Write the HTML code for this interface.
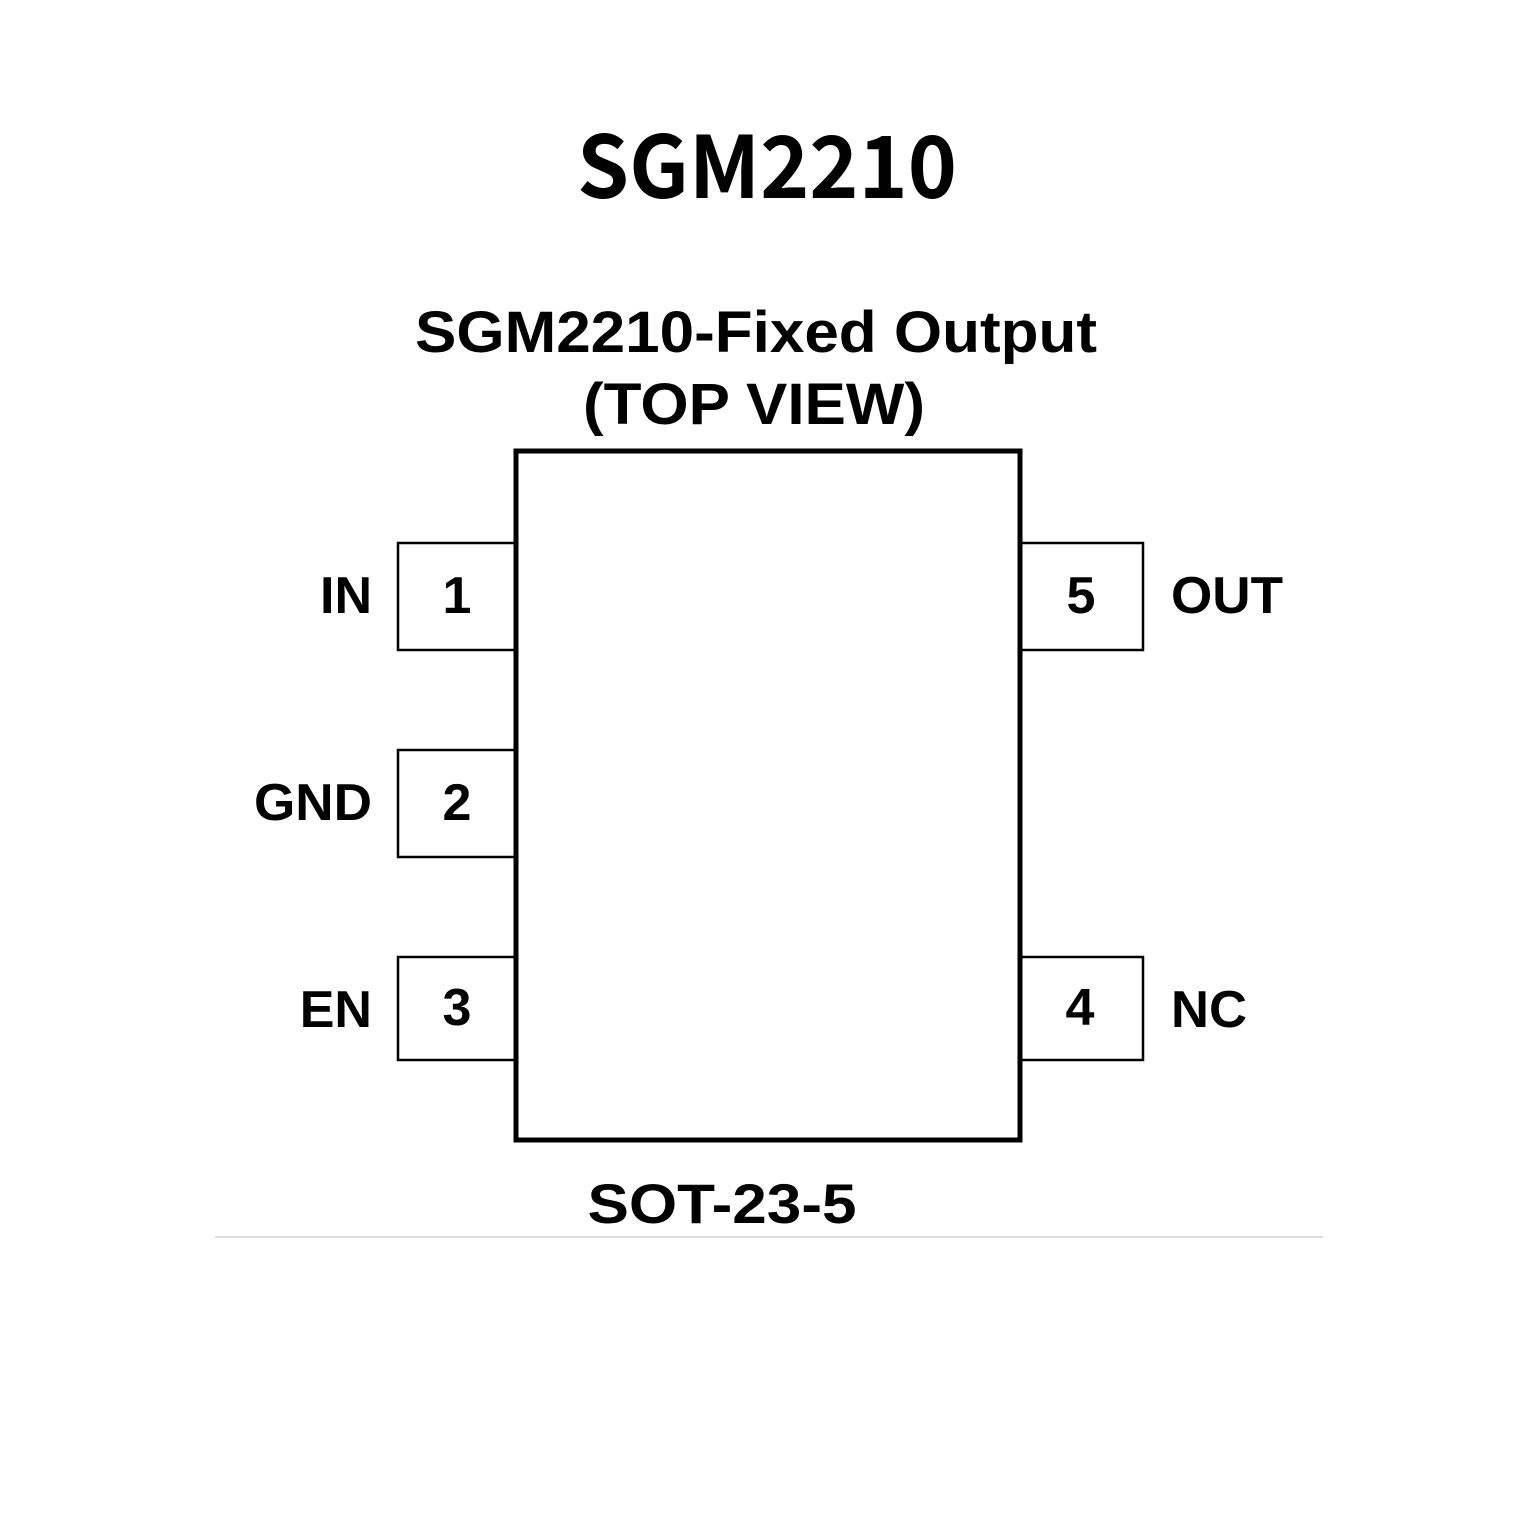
<!DOCTYPE html>
<html><head><style>body{margin:0;background:#fff}</style></head><body>
<svg width="1535" height="1535" xmlns="http://www.w3.org/2000/svg" font-family="Liberation Sans, sans-serif" font-weight="bold" fill="#000">
<text x="767" y="198" font-size="86" text-anchor="middle" font-family="Noto Sans CJK SC, Liberation Sans, sans-serif" textLength="380" lengthAdjust="spacingAndGlyphs">SGM2210</text>
<text x="756" y="352" font-size="58" text-anchor="middle" textLength="682" lengthAdjust="spacingAndGlyphs">SGM2210-Fixed Output</text>
<text x="754" y="424" font-size="58" text-anchor="middle" textLength="342" lengthAdjust="spacingAndGlyphs">(TOP VIEW)</text>
<rect x="516" y="451" width="504" height="689" fill="none" stroke="#000" stroke-width="5"/>
<g fill="none" stroke="#000" stroke-width="2.5">
<rect x="398" y="543" width="118" height="107"/>
<rect x="398" y="750" width="118" height="107"/>
<rect x="398" y="957" width="118" height="103"/>
<rect x="1020" y="543" width="123" height="107"/>
<rect x="1020" y="957" width="123" height="103"/>
</g>
<g font-size="52">
<text x="372" y="613" text-anchor="end">IN</text>
<text x="372" y="820" text-anchor="end" textLength="118" lengthAdjust="spacingAndGlyphs">GND</text>
<text x="372" y="1027" text-anchor="end">EN</text>
<text x="457" y="613" text-anchor="middle">1</text>
<text x="457" y="820" text-anchor="middle">2</text>
<text x="457" y="1025" text-anchor="middle">3</text>
<text x="1081" y="613" text-anchor="middle">5</text>
<text x="1080" y="1025" text-anchor="middle">4</text>
<text x="1171" y="613" textLength="112" lengthAdjust="spacingAndGlyphs">OUT</text>
<text x="1171" y="1027" textLength="76" lengthAdjust="spacingAndGlyphs">NC</text>
</g>
<text x="722" y="1223" font-size="56" text-anchor="middle" textLength="269" lengthAdjust="spacingAndGlyphs">SOT-23-5</text>
<line x1="215" y1="1237" x2="1323" y2="1237" stroke="#ddd" stroke-width="2"/>
</svg>
</body></html>
